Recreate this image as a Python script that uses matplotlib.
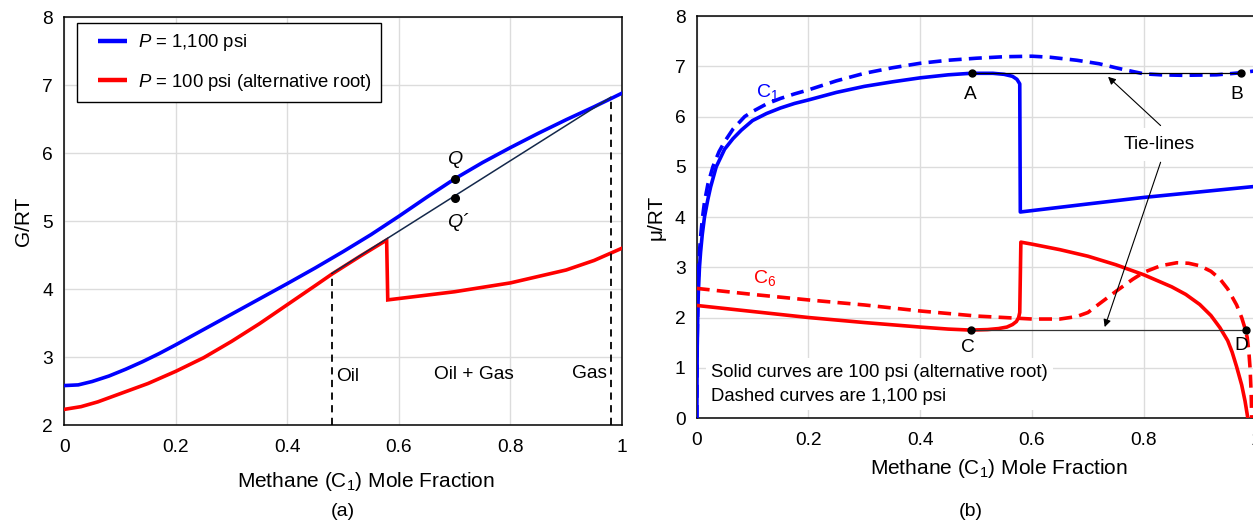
import matplotlib
matplotlib.use("Agg")
import matplotlib.pyplot as plt
from matplotlib.ticker import FuncFormatter, MultipleLocator
from matplotlib.lines import Line2D
from matplotlib.legend_handler import HandlerLine2D

plt.rcParams['font.family'] = ['Liberation Sans', 'DejaVu Sans']
plt.rcParams['mathtext.fontset'] = 'custom'
plt.rcParams['mathtext.rm'] = 'Liberation Sans'
plt.rcParams['mathtext.it'] = 'Liberation Sans:italic'

# ---------------- Data: panel (a) G/RT ----------------
xa_blue = [0.0, 0.025, 0.05, 0.08, 0.11, 0.14, 0.17, 0.2, 0.26, 0.32, 0.4, 0.45, 0.5, 0.55, 0.6, 0.65, 0.7, 0.75, 0.8, 0.85, 0.9, 0.95, 1.0]
ga_blue = [2.58, 2.59, 2.64, 2.72, 2.82, 2.93, 3.05, 3.18, 3.45, 3.72, 4.08, 4.31, 4.55, 4.80, 5.07, 5.35, 5.62, 5.86, 6.08, 6.29, 6.49, 6.68, 6.88]

xa_red = [0.0, 0.03, 0.06, 0.1, 0.15, 0.2, 0.25, 0.3, 0.35, 0.4, 0.45, 0.48, 0.53, 0.578, 0.58, 0.6, 0.7, 0.8, 0.9, 0.95, 1.0]
ga_red = [2.23, 2.27, 2.34, 2.46, 2.61, 2.79, 2.99, 3.23, 3.49, 3.77, 4.05, 4.22, 4.48, 4.72, 3.84, 3.86, 3.96, 4.09, 4.28, 4.42, 4.60]

tangent_x = [0.48, 0.98]
tangent_g = [4.23, 6.82]
oil_x, gas_x = 0.48, 0.98
q_x, q_g, qp_g = 0.70, 5.62, 5.34

# ---------------- Data: panel (b) mu/RT ----------------
xb_c1_solid = [0.0003, 0.0006, 0.001, 0.002, 0.003, 0.005, 0.007, 0.01, 0.014, 0.02, 0.025, 0.035, 0.05, 0.065, 0.08, 0.1, 0.125, 0.15, 0.175, 0.2, 0.25, 0.3, 0.35, 0.4, 0.45, 0.49, 0.53, 0.55, 0.565, 0.573, 0.578,
               0.579, 0.7, 0.8, 0.9, 1.0]
mu_c1_solid = [0.0, 0.8, 1.4, 2.1, 2.5, 3.0, 3.3, 3.65, 4.0, 4.35, 4.6, 5.0, 5.35, 5.56, 5.73, 5.92, 6.06, 6.17, 6.26, 6.33, 6.48, 6.6, 6.69, 6.77, 6.83, 6.86, 6.86, 6.84, 6.8, 6.74, 6.65,
               4.10, 4.26, 4.39, 4.50, 4.61]

xb_c1_dash = [0.0003, 0.0006, 0.001, 0.002, 0.003, 0.005, 0.007, 0.01, 0.014, 0.02, 0.029, 0.04, 0.05, 0.065, 0.086, 0.1, 0.125, 0.15, 0.175, 0.2, 0.25, 0.3, 0.35, 0.4, 0.45, 0.5, 0.55, 0.6, 0.632, 0.68, 0.72, 0.75, 0.77, 0.787, 0.8, 0.83, 0.87, 0.93, 0.973, 1.0]
mu_c1_dash = [0.0, 1.0, 1.6, 2.3, 2.8, 3.3, 3.6, 3.95, 4.3, 4.65, 5.0, 5.3, 5.5, 5.75, 6.0, 6.1, 6.25, 6.36, 6.45, 6.53, 6.71, 6.86, 6.97, 7.06, 7.12, 7.16, 7.19, 7.2, 7.18, 7.12, 7.05, 6.97, 6.92, 6.88, 6.85, 6.83, 6.82, 6.83, 6.87, 6.91]

xb_c6_solid = [0.0, 0.1, 0.2, 0.3, 0.4, 0.45, 0.49, 0.52, 0.54, 0.555, 0.565, 0.572, 0.576, 0.578,
               0.58, 0.6, 0.65, 0.7, 0.75, 0.8, 0.85, 0.875, 0.9, 0.92, 0.936, 0.95, 0.958, 0.966, 0.975, 0.981, 0.986]
mu_c6_solid = [2.24, 2.12, 2.0, 1.9, 1.81, 1.77, 1.75, 1.76, 1.78, 1.81, 1.86, 1.92, 2.0, 2.1,
               3.50, 3.46, 3.35, 3.22, 3.05, 2.85, 2.61, 2.46, 2.26, 2.04, 1.80, 1.54, 1.31, 1.02, 0.66, 0.34, 0.0]

xb_c6_dash = [0.0, 0.1, 0.2, 0.3, 0.4, 0.5, 0.6, 0.65, 0.68, 0.7, 0.72, 0.75, 0.78, 0.8, 0.83, 0.859, 0.88, 0.9, 0.92, 0.936, 0.95, 0.966, 0.975, 0.98, 0.985, 0.988, 0.99, 0.992, 0.993]
mu_c6_dash = [2.58, 2.46, 2.35, 2.25, 2.13, 2.03, 1.97, 1.97, 2.02, 2.1, 2.27, 2.52, 2.76, 2.9, 3.03, 3.09, 3.08, 3.03, 2.92, 2.77, 2.57, 2.25, 2.0, 1.82, 1.6, 1.3, 1.0, 0.5, 0.0]

tie_top_x, tie_top_mu = [0.492, 0.973], 6.87
tie_bot_x, tie_bot_mu = [0.49, 0.982], 1.75

xticks = [0, 0.2, 0.4, 0.6, 0.8, 1.0]

BLUE = '#0000ff'
RED = '#ff0000'
LW = 2.6
GRID = '#dcdcdc'

fig = plt.figure(figsize=(12.53, 5.22), dpi=100)
axa = fig.add_axes([0.0513, 0.1858, 0.4451, 0.7816])
axb = fig.add_axes([0.5560, 0.1992, 0.4461, 0.7701])

fmt = FuncFormatter(lambda v, p: ('%g' % round(v, 3)))
for ax in (axa, axb):
    ax.set_xlim(0, 1)
    ax.set_xticks(xticks)
    ax.xaxis.set_major_formatter(fmt)
    ax.yaxis.set_major_locator(MultipleLocator(1))
    ax.grid(True, color=GRID, lw=1.0, zorder=0)
    ax.set_axisbelow(True)
    ax.tick_params(length=0, labelsize=13.8)
    ax.tick_params(axis='x', pad=10)
    ax.tick_params(axis='y', pad=8)
    for s in ax.spines.values():
        s.set_linewidth(1.1)
        s.set_color('black')
    ax.set_xlabel('Methane (C$_\\mathregular{1}$) Mole Fraction', fontsize=15)

# ---------------- panel (a) ----------------
axa.set_ylim(2, 8)
axa.plot(xa_blue, ga_blue, color=BLUE, lw=LW, zorder=3)
axa.plot(xa_red, ga_red, color=RED, lw=LW, zorder=3, solid_joinstyle='miter')
axa.plot(tangent_x, tangent_g, color='#14284b', lw=1.1, zorder=4)
axa.plot([oil_x, oil_x], [2, tangent_g[0]], color='black', lw=1.3, ls=(0, (4, 3)), zorder=4)
axa.plot([gas_x, gas_x], [2, tangent_g[1]], color='black', lw=1.3, ls=(0, (4, 3)), zorder=4)
axa.plot([q_x, q_x], [q_g, qp_g], 'o', color='black', ms=5.5, zorder=5)
axa.text(q_x, 5.9, 'Q', fontsize=14, style='italic', ha='center', va='center')
axa.text(q_x + 0.006, 4.99, 'Q\u00b4', fontsize=14, style='italic', ha='center', va='center')
axa.text(0.487, 2.71, 'Oil', fontsize=13.8, ha='left', va='center')
axa.text(0.734, 2.75, 'Oil + Gas', fontsize=13.8, ha='center', va='center')
axa.text(0.974, 2.76, 'Gas', fontsize=13.8, ha='right', va='center')
axa.set_ylabel('G/RT', fontsize=15, labelpad=7)
axa.xaxis.set_label_coords(0.541, -0.11)


class ShortLine(HandlerLine2D):
    def create_artists(self, legend, orig_handle, xdescent, ydescent, width, height, fontsize, trans):
        y = height / 2.0 - ydescent
        ln = Line2D([width * 0.28 - xdescent, width - xdescent], [y, y],
                    color=orig_handle.get_color(), lw=orig_handle.get_linewidth(),
                    solid_capstyle='butt')
        ln.set_transform(trans)
        return [ln]


handles = [Line2D([], [], color=BLUE, lw=3.2), Line2D([], [], color=RED, lw=3.2)]
labels = ['$\\mathit{P}$ = 1,100 psi', '$\\mathit{P}$ = 100 psi (alternative root)']
leg = axa.legend(handles, labels, loc='upper left', bbox_to_anchor=(0.0228, 0.985),
                 borderaxespad=0, fontsize=13.3, frameon=True, fancybox=False,
                 edgecolor='black', framealpha=1, handlelength=2.2, handletextpad=0.6,
                 labelspacing=1.0, borderpad=0.5,
                 handler_map={Line2D: ShortLine()})
leg.get_frame().set_linewidth(1.0)

# ---------------- panel (b) ----------------
axb.set_ylim(0, 8)
DASH = (0, (3.6, 2.0))
axb.plot(xb_c1_dash, mu_c1_dash, color=BLUE, lw=LW, ls=DASH, zorder=3)
axb.plot(xb_c1_solid, mu_c1_solid, color=BLUE, lw=LW, zorder=3)
axb.plot(xb_c6_dash, mu_c6_dash, color=RED, lw=LW, ls=DASH, zorder=3)
axb.plot(xb_c6_solid, mu_c6_solid, color=RED, lw=LW, zorder=3)
axb.plot(tie_top_x, [tie_top_mu, tie_top_mu], color='black', lw=0.9, zorder=4)
axb.plot(tie_bot_x, [tie_bot_mu, tie_bot_mu], color='#333333', lw=0.9, zorder=4)
axb.plot(tie_top_x, [tie_top_mu, tie_top_mu], 'o', color='black', ms=5, zorder=5)
axb.plot(tie_bot_x, [tie_bot_mu, tie_bot_mu], 'o', color='black', ms=5, zorder=5)
axb.text(0.49, 6.44, 'A', fontsize=13.8, ha='center', va='center')
axb.text(0.967, 6.44, 'B', fontsize=13.8, ha='center', va='center')
axb.text(0.486, 1.41, 'C', fontsize=13.8, ha='center', va='center')
axb.text(0.974, 1.44, 'D', fontsize=13.8, ha='center', va='center')
axb.text(0.127, 6.49, 'C$_\\mathregular{1}$', color=BLUE, fontsize=14, ha='center', va='center')
axb.text(0.122, 2.79, 'C$_\\mathregular{6}$', color=RED, fontsize=14, ha='center', va='center')
axb.text(0.827, 5.44, 'Tie-lines', fontsize=13.8, ha='center', va='center', zorder=6,
         bbox=dict(facecolor='white', edgecolor='none', pad=6))
arrow = dict(arrowstyle='-|>', color='black', lw=0.8, mutation_scale=11, shrinkA=0, shrinkB=0)
axb.annotate('', xy=(0.736, 6.79), xytext=(0.83, 5.82), arrowprops=arrow, zorder=6)
axb.annotate('', xy=(0.730, 1.81), xytext=(0.83, 5.09), arrowprops=arrow, zorder=6)
axb.text(0.026, 0.67, 'Solid curves are 100 psi (alternative root)\nDashed curves are 1,100 psi',
         fontsize=13.3, ha='left', va='center', linespacing=1.55, zorder=6,
         bbox=dict(facecolor='white', edgecolor='none', pad=4))
axb.set_ylabel('\u03bc/RT', fontsize=15, labelpad=6.5)
axb.xaxis.set_label_coords(0.541, -0.098)

fig.text(0.0513 + 0.4451 / 2, (522 - 512) / 522, '(a)', fontsize=14, ha='center', va='center')
fig.text(0.5560 + 0.4461 / 2 - 0.004, (522 - 512) / 522, '(b)', fontsize=14, ha='center', va='center')

fig.savefig('out.png', dpi=100)
